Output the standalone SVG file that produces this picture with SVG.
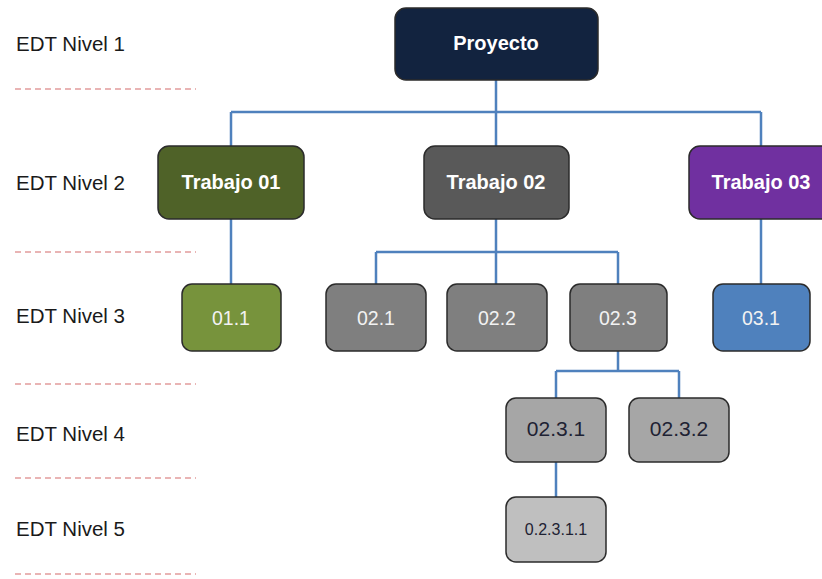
<svg xmlns="http://www.w3.org/2000/svg" width="822" height="579" viewBox="0 0 822 579">
  <style>
    .box { stroke: #2b2b2b; stroke-width: 1.5; }
    .l1 { fill: #12233f; }
    .t01 { fill: #4f6228; }
    .t02 { fill: #595959; }
    .t03 { fill: #7030a0; }
    .g01 { fill: #77933c; }
    .g02 { fill: #7f7f7f; }
    .g03 { fill: #4f81bd; }
    .g4 { fill: #a6a6a6; }
    .g5 { fill: #bfbfbf; }
    .head { font-family: "Liberation Sans", Arial, sans-serif; font-weight: bold; font-size: 20px; fill: #ffffff; text-anchor: middle; }
    .sub { font-family: "Liberation Sans", Arial, sans-serif; font-size: 19.5px; fill: #f2f2f2; text-anchor: middle; }
    .dark { font-family: "Liberation Sans", Arial, sans-serif; font-size: 21px; fill: #1e2233; text-anchor: middle; }
    .small { font-family: "Liberation Sans", Arial, sans-serif; font-size: 16px; fill: #1e2233; text-anchor: middle; }
    .lvl { font-family: "Liberation Sans", Arial, sans-serif; font-size: 20.5px; fill: #1a1a1a; }
    .sep { stroke: #d46a6a; stroke-width: 1.2; stroke-dasharray: 6 4; fill: none; }
    .conn { stroke: #4f81bd; stroke-width: 2.5; fill: none; }
  </style>

  <!-- level labels and separators -->
  <g id="levels">
    <text class="lvl" x="16" y="51">EDT Nivel 1</text>
    <line class="sep" x1="15" y1="89" x2="196" y2="89"/>
    <text class="lvl" x="16" y="190">EDT Nivel 2</text>
    <line class="sep" x1="15" y1="252" x2="196" y2="252"/>
    <text class="lvl" x="16" y="323">EDT Nivel 3</text>
    <line class="sep" x1="15" y1="384" x2="196" y2="384"/>
    <text class="lvl" x="16" y="441">EDT Nivel 4</text>
    <line class="sep" x1="15" y1="478" x2="196" y2="478"/>
    <text class="lvl" x="16" y="536">EDT Nivel 5</text>
    <line class="sep" x1="15" y1="574" x2="196" y2="574"/>
  </g>

  <!-- connectors -->
  <g id="connectors">
    <path class="conn" d="M496 80 V112 M231 112 H761 M231 112 V146 M496 112 V146 M761 112 V146"/>
    <path class="conn" d="M231 219 V284"/>
    <path class="conn" d="M496 219 V252 M376 252 H618 M376 252 V284 M496 252 V284 M618 252 V284"/>
    <path class="conn" d="M761 219 V284"/>
    <path class="conn" d="M618 351 V371 M556 371 H679 M556 371 V398 M679 371 V398"/>
    <path class="conn" d="M556 462 V497"/>
  </g>

  <!-- level 1 -->
  <g id="proyecto">
    <rect class="box l1" x="395" y="8" width="203" height="72" rx="11"/>
    <text class="head" x="496" y="50">Proyecto</text>
  </g>

  <!-- level 2 -->
  <g id="trabajo01">
    <rect class="box t01" x="158" y="146" width="146" height="73" rx="11"/>
    <text class="head" x="231" y="189">Trabajo 01</text>
  </g>
  <g id="trabajo02">
    <rect class="box t02" x="424" y="146" width="145" height="73" rx="11"/>
    <text class="head" x="496" y="189">Trabajo 02</text>
  </g>
  <g id="trabajo03">
    <rect class="box t03" x="689" y="146" width="146" height="73" rx="11"/>
    <text class="head" x="761" y="189">Trabajo 03</text>
  </g>

  <!-- level 3 -->
  <g id="n01-1">
    <rect class="box g01" x="182" y="284" width="99" height="67" rx="10"/>
    <text class="sub" x="231" y="325">01.1</text>
  </g>
  <g id="n02-1">
    <rect class="box g02" x="326" y="284" width="100" height="67" rx="10"/>
    <text class="sub" x="376" y="325">02.1</text>
  </g>
  <g id="n02-2">
    <rect class="box g02" x="447" y="284" width="100" height="67" rx="10"/>
    <text class="sub" x="497" y="325">02.2</text>
  </g>
  <g id="n02-3">
    <rect class="box g02" x="570" y="284" width="97" height="67" rx="10"/>
    <text class="sub" x="618" y="325">02.3</text>
  </g>
  <g id="n03-1">
    <rect class="box g03" x="713" y="284" width="97" height="67" rx="10"/>
    <text class="sub" x="761" y="325">03.1</text>
  </g>

  <!-- level 4 -->
  <g id="n02-3-1">
    <rect class="box g4" x="506" y="398" width="100" height="64" rx="10"/>
    <text class="dark" x="556" y="436">02.3.1</text>
  </g>
  <g id="n02-3-2">
    <rect class="box g4" x="629" y="398" width="100" height="64" rx="10"/>
    <text class="dark" x="679" y="436">02.3.2</text>
  </g>

  <!-- level 5 -->
  <g id="n02-3-1-1">
    <rect class="box g5" x="506" y="497" width="100" height="65" rx="10"/>
    <text class="small" x="556" y="535">0.2.3.1.1</text>
  </g>
</svg>
